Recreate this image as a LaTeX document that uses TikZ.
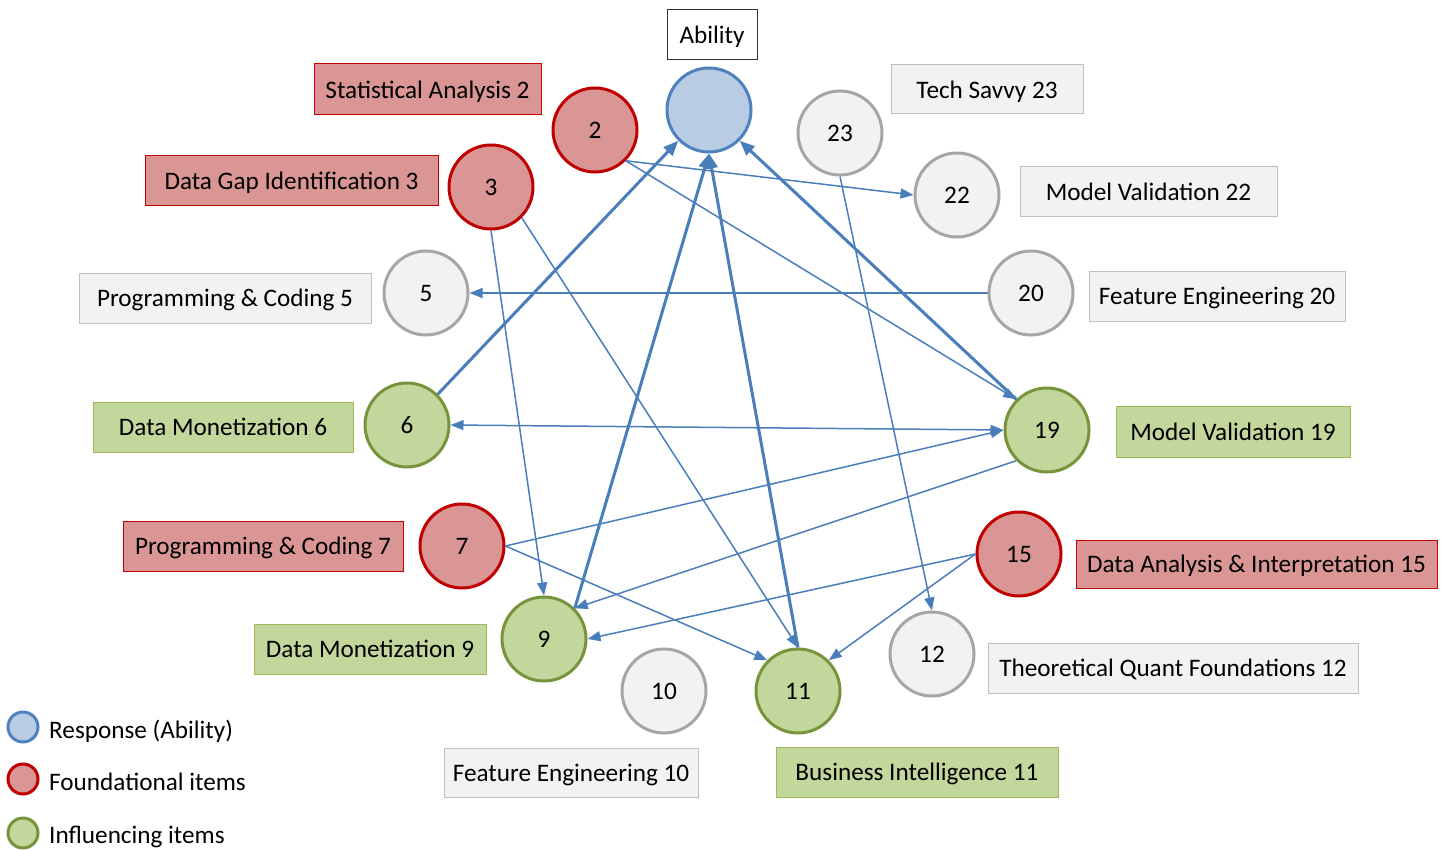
\documentclass[tikz,border=0pt]{standalone}
\usepackage{fontspec}
\setmainfont{Carlito}
\usetikzlibrary{arrows.meta}
\definecolor{bfill}{HTML}{B8CCE4}
\definecolor{bline}{HTML}{4F81BD}
\definecolor{rfill}{HTML}{D99694}
\definecolor{rline}{HTML}{C00000}
\definecolor{gfill}{HTML}{C3D69B}
\definecolor{gline}{HTML}{77933C}
\definecolor{gbox}{HTML}{9BBB59}
\definecolor{yfill}{HTML}{F2F2F2}
\definecolor{yline}{HTML}{A6A6A6}
\definecolor{ybox}{HTML}{BFBFBF}
\definecolor{edge}{HTML}{4A7EBB}
\tikzset{
  txt/.style={font=\fontsize{25.2}{29}\selectfont, text depth=0pt},
  item/.style={circle, txt, minimum size=84pt, inner sep=0pt, line width=3pt},
  resp/.style={item, fill=bfill, draw=bline},
  found/.style={item, fill=rfill, draw=rline},
  infl/.style={item, fill=gfill, draw=gline},
  other/.style={item, fill=yfill, draw=yline},
  lbox/.style={rectangle, txt, inner sep=0pt, line width=1pt},
  rbox/.style={lbox, fill=rfill, draw=rline},
  gbx/.style={lbox, fill=gfill, draw=gbox},
  ybx/.style={lbox, fill=yfill, draw=ybox},
  wbx/.style={lbox, fill=white, draw=black!80},
  legc/.style={circle, minimum size=30pt, inner sep=0pt, line width=3pt},
  legt/.style={txt, anchor=west, inner sep=0pt},
  thin/.style={draw=edge, line width=1.5pt, -{Triangle[length=13pt,width=10pt]}},
  thinboth/.style={draw=edge, line width=1.5pt, {Triangle[length=13pt,width=10pt]}-{Triangle[length=13pt,width=10pt]}},
  thick/.style={draw=edge, line width=3pt, -{Triangle[length=15pt,width=12pt]}},
}
\begin{document}
\begin{tikzpicture}[x=1pt,y=-1pt]
\useasboundingbox (0,0) rectangle (1447,850);
% circles
\node[resp]  (A)   at (709,110) {};
\node[found] (n2)  at (595,130) {2};
\node[other] (n23) at (840,133) {23};
\node[found] (n3)  at (491,187) {3};
\node[other] (n22) at (957,195) {22};
\node[other] (n5)  at (426,293) {5};
\node[other] (n20) at (1031,293) {20};
\node[infl]  (n6)  at (407,425) {6};
\node[infl]  (n19) at (1047,430) {19};
\node[found] (n7)  at (462,546) {7};
\node[found] (n15) at (1019,554) {15};
\node[infl]  (n9)  at (544,639) {9};
\node[other] (n12) at (932,654) {12};
\node[other] (n10) at (664,691) {10};
\node[infl]  (n11) at (798,691) {11};
% label boxes
\node[wbx, minimum width=90pt, minimum height=50pt] (lA) at (712,35) {Ability};
\node[rbox, minimum width=227pt, minimum height=51pt] (l2) at (427.5,89.5) {Statistical Analysis 2};
\node[rbox, minimum width=293pt, minimum height=50pt] (l3) at (291.5,181) {Data Gap Identification 3};
\node[ybx, minimum width=292pt, minimum height=50pt] (l5) at (225,298) {Programming \& Coding 5};
\node[gbx, minimum width=260pt, minimum height=50pt] (l6) at (223,427) {Data Monetization 6};
\node[rbox, minimum width=280pt, minimum height=50pt] (l7) at (263,546) {Programming \& Coding 7};
\node[gbx, minimum width=232pt, minimum height=50pt] (l9) at (370,649) {Data Monetization 9};
\node[ybx, minimum width=254pt, minimum height=49pt] (l10) at (571,772.5) {Feature Engineering 10};
\node[gbx, minimum width=282pt, minimum height=50pt] (l11) at (917,772) {Business Intelligence 11};
\node[ybx, minimum width=370pt, minimum height=50pt] (l12) at (1173,668) {Theoretical Quant Foundations 12};
\node[rbox, minimum width=361pt, minimum height=48pt] (l15) at (1256.5,564) {Data Analysis \& Interpretation 15};
\node[gbx, minimum width=234pt, minimum height=51pt] (l19) at (1233,431.5) {Model Validation 19};
\node[ybx, minimum width=256pt, minimum height=50pt] (l20) at (1217,296) {Feature Engineering 20};
\node[ybx, minimum width=257pt, minimum height=50pt] (l22) at (1148.5,192) {Model Validation 22};
\node[ybx, minimum width=192pt, minimum height=49pt] (l23) at (987,89.5) {Tech Savvy 23};
% edges
\draw[thin] (n2.-45) -- (n22.180);
\draw[thin] (n2.-45) -- (n19.135);
\draw[thin] (n3.south) -- (n9.north);
\draw[thin] (n3.-45) -- (n11.north);
\draw[thin] (n20.west) -- (n5.east);
\draw[thinboth] (n6.east) -- (n19.west);
\draw[thin] (n23.south) -- (n12.north);
\draw[thin] (n7.east) -- (n19.west);
\draw[thin] (n7.east) -- (n11.135);
\draw[thin] (n19.225) -- (n9.45);
\draw[thin] (n15.west) -- (n9.east);
\draw[thin] (n15.west) -- (n11.45);
\draw[thick] (n6.45) -- (A.225);
\draw[thick] (n9.45) -- (A.south);
\draw[thick] (n11.north) -- (A.south);
\draw[thick] (n19.135) -- (A.-45);
% legend
\node[legc, fill=bfill, draw=bline] (k1) at (23,727) {};
\node[legc, fill=rfill, draw=rline] (k2) at (23,779) {};
\node[legc, fill=gfill, draw=gline] (k3) at (23,833) {};
\node[legt] (t1) at (49,729) {Response (Ability)};
\node[legt] (t2) at (49,782) {Foundational items};
\node[legt] (t3) at (49,835) {Influencing items};
\end{tikzpicture}
\end{document}
